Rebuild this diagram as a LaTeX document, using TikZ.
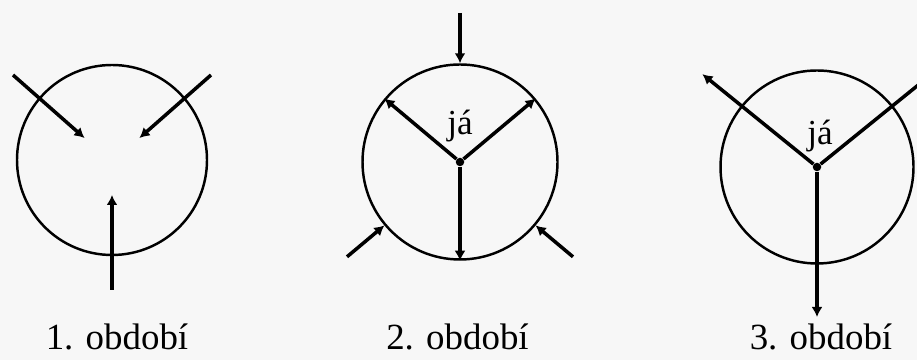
\documentclass[tikz,border=0pt]{standalone}
\usepackage{fontspec}
\setmainfont{Liberation Serif}
\usetikzlibrary{arrows.meta}
\begin{document}
\begin{tikzpicture}[
    period/.style={circle, draw, line width=1.4pt, inner sep=0pt},
    flow/.style={line width=2pt, -{Latex[length=2mm,width=2.2mm]}},
    hub/.style={circle, fill, inner sep=0pt, minimum size=1.7mm},
    ego/.style={font=\fontsize{20}{22}\selectfont},
    caption/.style={font=\fontsize{21}{24}\selectfont, anchor=base}
]
    \useasboundingbox[fill=black!3] (0,0) rectangle (18.34,7.2);

    % 1. period
    \node[period, minimum size=3.8cm] (P1) at (2.24,4.0) {};
    \coordinate (a1) at (0.26,5.70);
    \coordinate (a1e) at (1.69,4.44);
    \coordinate (b1) at (4.22,5.70);
    \coordinate (b1e) at (2.79,4.44);
    \coordinate (c1) at (2.24,1.40);
    \coordinate (c1e) at (2.24,3.30);
    \draw[flow] (a1) -- (a1e);
    \draw[flow] (b1) -- (b1e);
    \draw[flow] (c1) -- (c1e);
    \node[caption] (T1) at (2.34,0.2) {1. období};

    % 2. period
    \node[period, minimum size=3.9cm] (P2) at (9.2,3.96) {};
    \node[hub] (h2) at (P2.center) {};
    \node[ego] (ja2) at (9.2,4.68) {já};
    \coordinate (n2) at (9.2,6.94);
    \coordinate (l2) at ([shift={(220:2.95)}]P2.center);
    \coordinate (r2) at ([shift={(320:2.95)}]P2.center);
    \draw[flow] (h2) -- (P2.140);
    \draw[flow] (h2) -- (P2.40);
    \draw[flow] (h2) -- (P2.south);
    \draw[flow] (n2) -- (P2.north);
    \draw[flow] (l2) -- (P2.220);
    \draw[flow] (r2) -- (P2.320);
    \node[caption] (T2) at (9.15,0.2) {2. období};

    % 3. period
    \node[period, minimum size=3.86cm] (P3) at (16.34,3.86) {};
    \node[hub] (h3) at (P3.center) {};
    \node[ego] (ja3) at (16.40,4.48) {já};
    \coordinate (l3) at ([shift={(141:2.95)}]P3.center);
    \coordinate (r3) at ([shift={(39:2.95)}]P3.center);
    \coordinate (s3) at ([shift={(270:3.0)}]P3.center);
    \draw[flow] (h3) -- (l3);
    \draw[flow] (h3) -- (r3);
    \draw[flow] (h3) -- (s3);
    \node[caption] (T3) at (16.42,0.2) {3. období};
\end{tikzpicture}
\end{document}
